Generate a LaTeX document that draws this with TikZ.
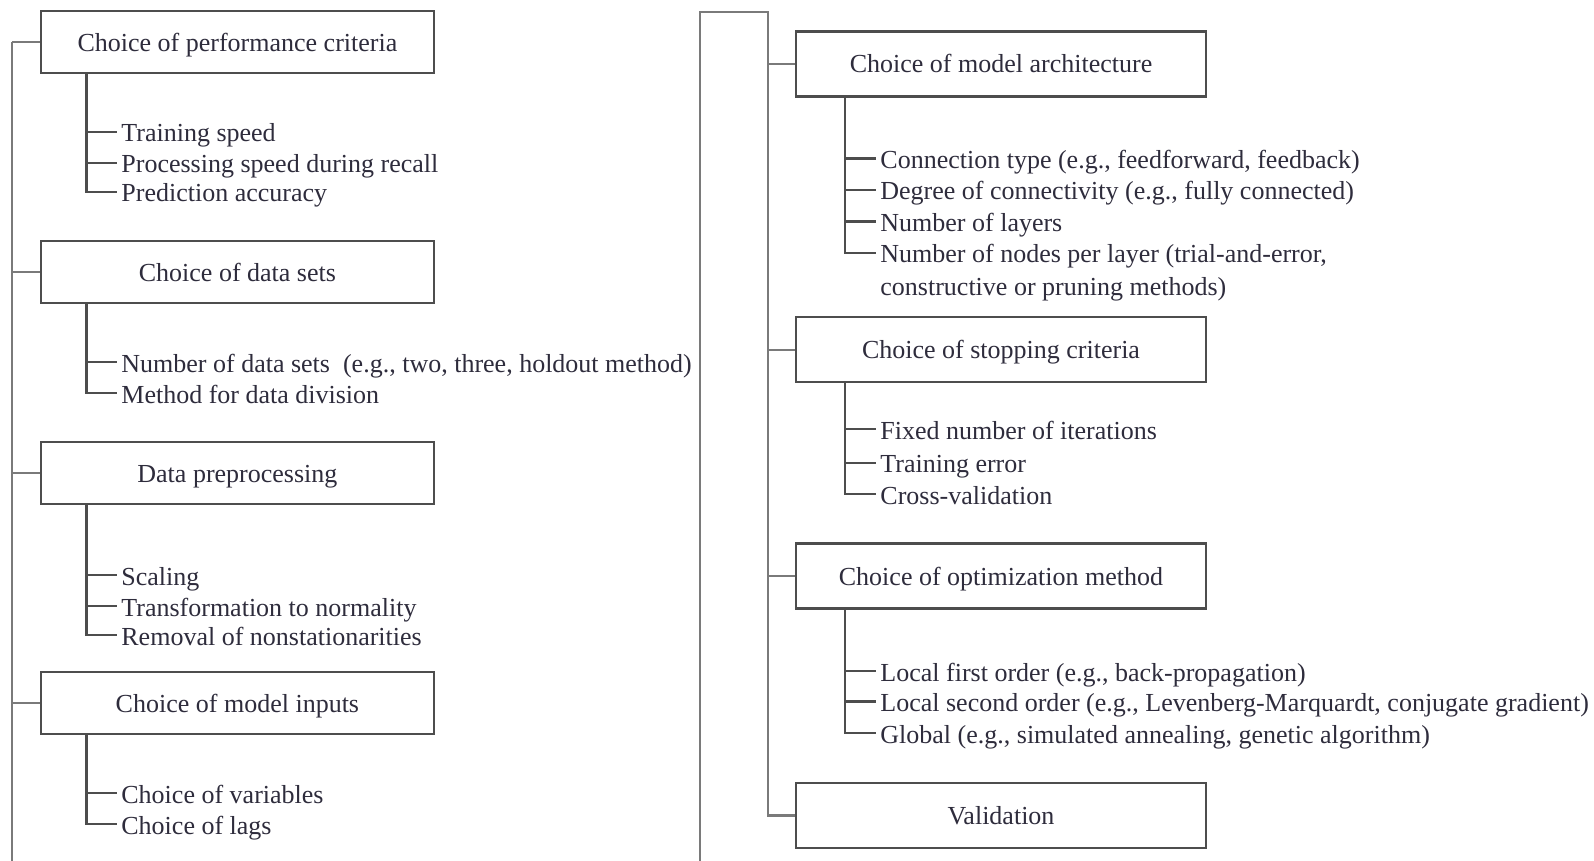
\documentclass[tikz,border=0pt]{standalone}
\usepackage{fontspec}
\setmainfont{Liberation Serif}
\usetikzlibrary{positioning, calc}
\definecolor{linegray}{HTML}{7A7A7A}
\definecolor{boxgray}{HTML}{4D4D4D}
\definecolor{inkdark}{HTML}{2E2C3C}

\begin{document}
\begin{tikzpicture}[
    x=0.5pt, y=-0.5pt,
    every node/.style={font=\fontsize{13}{16}\selectfont, text=inkdark},
    block/.style={draw=boxgray, fill=white, line width=1.1pt, minimum height=31pt, align=center, text height=10pt, text depth=1pt},
    lblock/.style={block, minimum width=196.5pt},
    rblock/.style={block, minimum width=205pt, minimum height=32.5pt},
    item/.style={anchor=west, inner sep=2pt, text height=11pt, text depth=1pt},
    link/.style={draw=linegray, line width=1.1pt},
    trunk/.style={draw=boxgray, line width=1.1pt}
]
    \useasboundingbox (0,0) rectangle (1594,861);

    \node[lblock] (perf) at (237.4,42.2) {Choice of performance criteria};
    \node[lblock] (data) at (237.4,272) {Choice of data sets};
    \node[lblock] (prep) at (237.4,473) {Data preprocessing};
    \node[lblock] (inputs) at (237.4,703) {Choice of model inputs};

    \node[rblock] (arch) at (1001,64) {Choice of model architecture};
    \node[rblock] (stop) at (1001,349.7) {Choice of stopping criteria};
    \node[rblock] (optim) at (1001,576) {Choice of optimization method};
    \node[rblock] (valid) at (1001,815.5) {Validation};

    \node[item] (speed) at (117,132) {Training speed};
    \node[item] (recall) at (117,162.7) {Processing speed during recall};
    \node[item] (accuracy) at (117,192) {Prediction accuracy};
    \node[item] (nsets) at (117,362) {Number of data sets~ (e.g., two, three, holdout method)};
    \node[item] (division) at (117,393) {Method for data division};
    \node[item] (scaling) at (117,575) {Scaling};
    \node[item] (normality) at (117,606) {Transformation to normality};
    \node[item] (nonstat) at (117,635) {Removal of nonstationarities};
    \node[item] (vars) at (117,793) {Choice of variables};
    \node[item] (lags) at (117,824) {Choice of lags};

    \node[item] (conn) at (876,158.6) {Connection type (e.g., feedforward, feedback)};
    \node[item] (degree) at (876,190) {Degree of connectivity (e.g., fully connected)};
    \node[item] (layers) at (876,221.6) {Number of layers};
    \node[item] (nodes) at (876,253) {Number of nodes per layer (trial-and-error,};
    \node[item] (nodes2) at (876,285.7) {constructive or pruning methods)};
    \node[item] (iters) at (876,429) {Fixed number of iterations};
    \node[item] (trainerr) at (876,462.6) {Training error};
    \node[item] (crossval) at (876,494) {Cross-validation};
    \node[item] (first) at (876,671) {Local first order (e.g., back-propagation)};
    \node[item] (second) at (876,701.5) {Local second order (e.g., Levenberg-Marquardt, conjugate gradient)};
    \node[item] (global) at (876,733) {Global (e.g., simulated annealing, genetic algorithm)};

    \coordinate (ltop) at (12,42.2);
    \coordinate (lbot) at (12,861);
    \coordinate (rbot) at (700,861);
    \coordinate (rcorner) at (700,12);
    \coordinate (rtop) at (768,12);

    \draw[link] (ltop) -- (lbot);
    \draw[link] (ltop) -- (perf.west);
    \draw[link] (ltop |- data.west) -- (data.west);
    \draw[link] (ltop |- prep.west) -- (prep.west);
    \draw[link] (ltop |- inputs.west) -- (inputs.west);

    \draw[link] (rbot) -- (rcorner) -- (rtop) |- (valid.west);
    \draw[link] (rtop |- arch.west) -- (arch.west);
    \draw[link] (rtop |- stop.west) -- (stop.west);
    \draw[link] (rtop |- optim.west) -- (optim.west);

    \coordinate (perft) at ($(perf.south west)+(46.7,0)$);
    \coordinate (datat) at ($(data.south west)+(46.7,0)$);
    \coordinate (prept) at ($(prep.south west)+(46.7,0)$);
    \coordinate (inputst) at ($(inputs.south west)+(46.7,0)$);
    \coordinate (archt) at ($(arch.south west)+(50,0)$);
    \coordinate (stopt) at ($(stop.south west)+(50,0)$);
    \coordinate (optimt) at ($(optim.south west)+(50,0)$);

    \draw[trunk] (perft) |- (speed.west);
    \draw[trunk] (perft) |- (recall.west);
    \draw[trunk] (perft) |- (accuracy.west);
    \draw[trunk] (datat) |- (nsets.west);
    \draw[trunk] (datat) |- (division.west);
    \draw[trunk] (prept) |- (scaling.west);
    \draw[trunk] (prept) |- (normality.west);
    \draw[trunk] (prept) |- (nonstat.west);
    \draw[trunk] (inputst) |- (vars.west);
    \draw[trunk] (inputst) |- (lags.west);

    \draw[trunk] (archt) |- (conn.west);
    \draw[trunk] (archt) |- (degree.west);
    \draw[trunk] (archt) |- (layers.west);
    \draw[trunk] (archt) |- (nodes.west);
    \draw[trunk] (stopt) |- (iters.west);
    \draw[trunk] (stopt) |- (trainerr.west);
    \draw[trunk] (stopt) |- (crossval.west);
    \draw[trunk] (optimt) |- (first.west);
    \draw[trunk] (optimt) |- (second.west);
    \draw[trunk] (optimt) |- (global.west);
\end{tikzpicture}
\end{document}
